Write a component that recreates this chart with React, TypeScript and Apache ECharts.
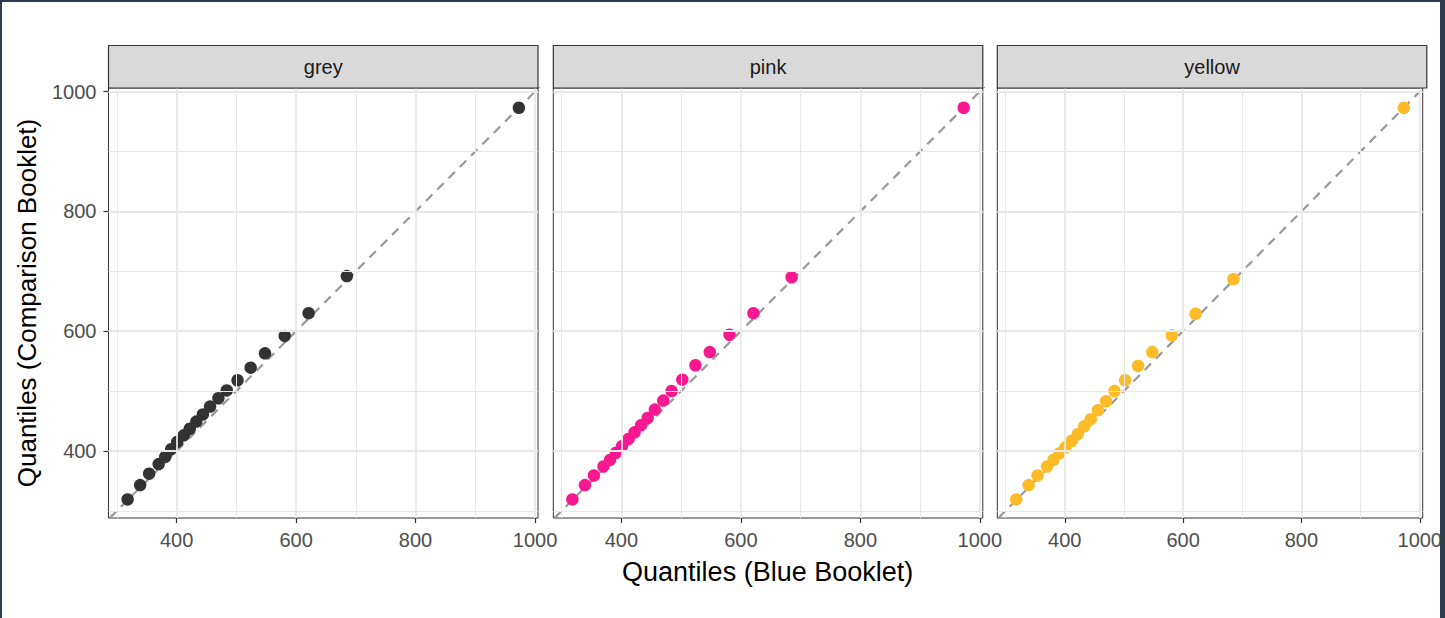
import React, { useEffect, useRef } from "react";
import * as echarts from "echarts";

// Quantiles of the Blue booklet (x) and of each comparison booklet (y)
const blueQuantiles = [318, 339, 354, 370, 381, 391, 401, 412, 422, 433, 444, 456, 470, 484, 502, 524, 548, 581, 621, 685, 973];
const greyQuantiles = [319, 343, 362, 378, 390, 403, 415, 426, 437, 449, 461, 474, 488, 501, 518, 539, 563, 592, 630, 692, 973];
const pinkQuantiles = [319, 343, 359, 374, 385, 397, 408, 420, 431, 443, 455, 469, 484, 500, 519, 543, 565, 594, 630, 690, 973];
const yellowQuantiles = [319, 343, 359, 374, 385, 396, 406, 417, 428, 441, 453, 468, 483, 500, 518, 542, 565, 593, 629, 687, 973];

const panelNames = ["grey", "pink", "yellow"];
const panelValues = [greyQuantiles, pinkQuantiles, yellowQuantiles];

const tickValues = [400, 600, 800, 1000];
const minorValues = [300, 500, 700, 900];
const identityLine = [250, 1050];

const xRange = [286, 1005];
const yRange = [288, 1006];

const panelColors = ["#333333", "#F8188F", "#FDBB27"];
const FONT = "'Liberation Sans', Arial, Helvetica, sans-serif";

export default function App() {
  const ref = useRef<HTMLDivElement>(null);

  useEffect(() => {
    if (!ref.current) return;
    const chart = echarts.init(ref.current, undefined, { renderer: "svg" });

    const lefts = [108.5, 553.3, 997.3];
    const panelW = 429.5;
    const top = 88;
    const panelH = 430;
    const stripTop = 45.5;

    const grids = lefts.map((l) => ({
      left: l,
      top,
      width: panelW,
      height: panelH,
      show: true,
      backgroundColor: "#ffffff",
      borderColor: "#333333",
      borderWidth: 1,
    }));

    const labelFmt = (v: number) => String(v);

    const xAxes = lefts.map((_, i) => ({
      gridIndex: i,
      type: "value",
      min: xRange[0],
      max: xRange[1],
      axisLine: { show: false },
      splitLine: { show: false },
      axisTick: {
        show: true,
        customValues: tickValues,
        length: 5,
        lineStyle: { color: "#333333", width: 1.2 },
      },
      axisLabel: {
        customValues: tickValues,
        formatter: labelFmt,
        color: "#4d4d4d",
        fontSize: 20,
        fontFamily: FONT,
        margin: 12,
      },
    }));

    const yAxes = lefts.map((_, i) => ({
      gridIndex: i,
      type: "value",
      min: yRange[0],
      max: yRange[1],
      axisLine: { show: false },
      splitLine: { show: false },
      axisTick: {
        show: i === 0,
        customValues: tickValues,
        length: 5,
        lineStyle: { color: "#333333", width: 1.2 },
      },
      axisLabel: {
        show: i === 0,
        customValues: tickValues,
        formatter: labelFmt,
        color: "#4d4d4d",
        fontSize: 20,
        fontFamily: FONT,
        margin: 12,
      },
    }));

    const series: any[] = [];
    panelNames.forEach((name, i) => {
      const gridData = [
        ...tickValues.map((v) => ({ xAxis: v, lineStyle: { width: 1.8 } })),
        ...minorValues.map((v) => ({ xAxis: v, lineStyle: { width: 1 } })),
        ...tickValues.map((v) => ({ yAxis: v, lineStyle: { width: 1.8 } })),
        ...minorValues.map((v) => ({ yAxis: v, lineStyle: { width: 1 } })),
      ];
      series.push({
        type: "line",
        xAxisIndex: i,
        yAxisIndex: i,
        data: [],
        silent: true,
        z: 1,
        markLine: {
          silent: true,
          symbol: ["none", "none"],
          label: { show: false },
          lineStyle: { color: "#e8e8e8", type: "solid" },
          data: gridData,
          animation: false,
        },
      });
      series.push({
        type: "line",
        xAxisIndex: i,
        yAxisIndex: i,
        data: identityLine.map((v) => [v, v]),
        showSymbol: false,
        symbol: "none",
        clip: true,
        silent: true,
        z: 2,
        lineStyle: { color: "#999999", type: [9, 7], width: 2.2 },
      });
      series.push({
        type: "scatter",
        name,
        xAxisIndex: i,
        yAxisIndex: i,
        data: blueQuantiles.map((x, j) => [x, panelValues[i][j]]),
        symbolSize: 12.5,
        z: 3,
        itemStyle: { color: panelColors[i], opacity: 1 },
      });
    });

    const graphics: any[] = [];
    lefts.forEach((l, i) => {
      graphics.push({
        type: "rect",
        shape: { x: l, y: stripTop, width: panelW, height: top - stripTop },
        style: { fill: "#d9d9d9", stroke: "#333333", lineWidth: 1.2 },
        z: 10,
      });
      graphics.push({
        type: "text",
        x: l + panelW / 2,
        y: (stripTop + top) / 2,
        style: {
          text: panelNames[i],
          align: "center",
          verticalAlign: "middle",
          fill: "#1a1a1a",
          font: `20px ${FONT}`,
        },
        z: 11,
      });
    });
    graphics.push({
      type: "text",
      x: lefts[0] + (lefts[2] + panelW - lefts[0]) / 2,
      y: 572,
      style: {
        text: "Quantiles (Blue Booklet)",
        align: "center",
        verticalAlign: "middle",
        fill: "#000000",
        font: `27px ${FONT}`,
      },
      z: 11,
    });
    graphics.push({
      type: "text",
      x: 27,
      y: top + panelH / 2,
      rotation: Math.PI / 2,
      style: {
        text: "Quantiles (Comparison Booklet)",
        align: "center",
        verticalAlign: "middle",
        fill: "#000000",
        font: `26px ${FONT}`,
      },
      z: 11,
    });
    // dark frame around the picture
    const frame = "#2c3e4d";
    graphics.push({ type: "rect", shape: { x: 0, y: 0, width: 1445, height: 2 }, style: { fill: frame }, z: 100 });
    graphics.push({ type: "rect", shape: { x: 0, y: 0, width: 2, height: 618 }, style: { fill: frame }, z: 100 });
    graphics.push({ type: "rect", shape: { x: 1440, y: 0, width: 5, height: 618 }, style: { fill: frame }, z: 100 });

    chart.setOption({
      animation: false,
      backgroundColor: "#ffffff",
      grid: grids,
      xAxis: xAxes,
      yAxis: yAxes,
      series,
      graphic: graphics,
    });

    return () => chart.dispose();
  }, []);

  return (
    <div
      ref={ref}
      style={{ position: "fixed", left: 0, top: 0, width: 1445, height: 618, background: "#ffffff" }}
    />
  );
}
